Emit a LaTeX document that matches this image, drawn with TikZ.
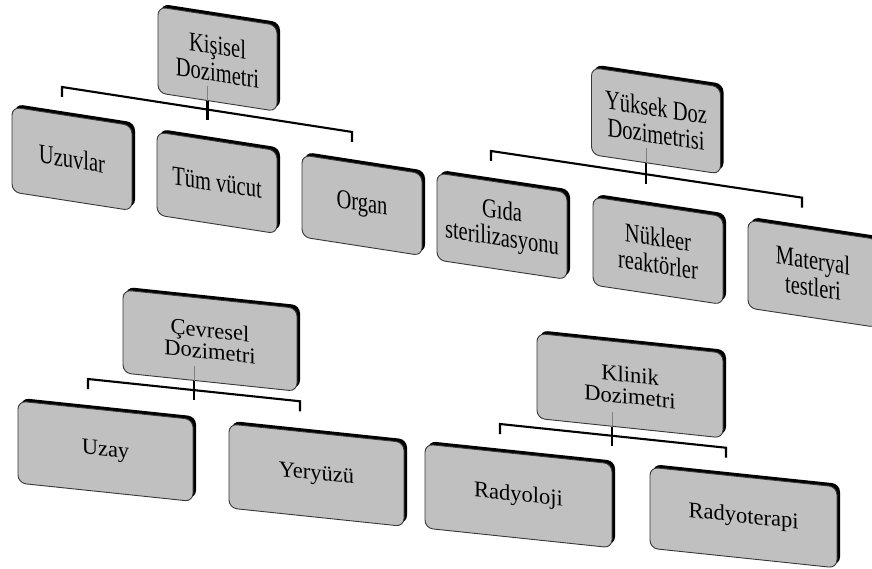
\documentclass[tikz,border=0pt]{standalone}
\usepackage{fontspec}
\setmainfont{Liberation Serif}
\newfontfamily\narrowserif[FakeStretch=0.76]{Liberation Serif}
\usetikzlibrary{shadows}

\definecolor{boxgray}{RGB}{192,192,192}
\definecolor{edgegray}{RGB}{55,55,55}

\tikzset{
  orgbox/.style={draw=edgegray, line width=0.9pt, fill=boxgray,
    rounded corners=8pt, transform shape, inner sep=2pt, align=center,
    general shadow={fill=black, shadow xshift=3pt, shadow yshift=3pt}},
  upperbox/.style={orgbox, font=\narrowserif\fontsize{27}{27}\selectfont},
  lowerbox/.style={orgbox, font=\fontsize{22.5}{21.5}\selectfont},
  conn/.style={line width=2.1pt, draw=black},
  stemin/.style={line width=0.6pt, draw=gray},
}

\begin{document}
\begin{tikzpicture}[x=1pt,y=1pt]
\useasboundingbox (0,0) rectangle (872,-569);
\fill[white] (0,0) rectangle (872,-569);

% --- Kişisel Dozimetri ---
\begin{scope}[shift={(62,-87)}, yslant=-0.155]
  \coordinate (kL) at (0,0);   \coordinate (kLd) at (0,-10);
  \coordinate (kR) at (290,0); \coordinate (kRd) at (290,-10);
  \coordinate (kS) at (145.5,-10);
  \draw[conn] (kLd) -- (kL) -- (kR) -- (kRd);
  \node[upperbox, minimum width=119pt, minimum height=86pt] (k) at (155.5,52) {Kişisel\\Dozimetri};
  \draw[conn] ([xshift=-10pt]k.south) -- (kS);
  \draw[stemin] ([xshift=-10pt]k.south) -- ++(0,15);
  \node[upperbox, minimum width=120pt, minimum height=85pt] (k1) at (10,-70.25) {Uzuvlar};
  \node[upperbox, minimum width=120pt, minimum height=83pt] (k2) at (155,-71.8) {Tüm vücut};
  \node[upperbox, minimum width=120pt, minimum height=82pt] (k3) at (300,-71.8) {Organ};
\end{scope}

% --- Yüksek Doz Dozimetrisi ---
\begin{scope}[shift={(491,-151)}, yslant=-0.15]
  \coordinate (yL) at (0,0);   \coordinate (yLd) at (0,-10);
  \coordinate (yR) at (311,0); \coordinate (yRd) at (311,-10);
  \coordinate (yS) at (155,-10);
  \draw[conn] (yLd) -- (yL) -- (yR) -- (yRd);
  \node[upperbox, minimum width=129pt, minimum height=87pt] (y) at (165,55) {Yüksek Doz\\Dozimetrisi};
  \draw[conn] ([xshift=-10pt]y.south) -- (yS);
  \draw[stemin] ([xshift=-10pt]y.south) -- ++(0,15);
  \node[upperbox, minimum width=130pt, minimum height=87pt] (y1) at (11,-73.6) {Gıda\\sterilizasyonu};
  \node[upperbox, minimum width=130pt, minimum height=88pt] (y2) at (167,-74.7) {Nükleer\\reaktörler};
  \node[upperbox, minimum width=130pt, minimum height=88pt] (y3) at (322,-74.45) {Materyal\\testleri};
\end{scope}

% --- Çevresel Dozimetri ---
\begin{scope}[shift={(88,-379)}, yslant=-0.105]
  \coordinate (cL) at (0,0);   \coordinate (cLd) at (0,-10);
  \coordinate (cR) at (212,0); \coordinate (cRd) at (212,-10);
  \coordinate (cS) at (106,-10);
  \draw[conn] (cLd) -- (cL) -- (cR) -- (cRd);
  \node[lowerbox, minimum width=174pt, minimum height=83pt] (c) at (122,51.2) {Çevresel\\Dozimetri};
  \draw[conn] ([xshift=-16pt]c.south) -- (cS);
  \draw[stemin] ([xshift=-16pt]c.south) -- ++(0,15);
  \node[lowerbox, minimum width=175pt, minimum height=82pt] (c1) at (17.5,-70.4) {Uzay};
  \node[lowerbox, minimum width=175pt, minimum height=84pt] (c2) at (228.5,-72.2) {Yeryüzü};
\end{scope}

% --- Klinik Dozimetri ---
\begin{scope}[shift={(500,-424)}, yslant=-0.105]
  \coordinate (lL) at (0,0);   \coordinate (lLd) at (0,-10);
  \coordinate (lR) at (226,0); \coordinate (lRd) at (226,-10);
  \coordinate (lS) at (112,-10);
  \draw[conn] (lLd) -- (lL) -- (lR) -- (lRd);
  \node[lowerbox, minimum width=186pt, minimum height=85pt] (l) at (130,52) {Klinik\\Dozimetri};
  \draw[conn] ([xshift=-18pt]l.south) -- (lS);
  \draw[stemin] ([xshift=-18pt]l.south) -- ++(0,15);
  \node[lowerbox, minimum width=187pt, minimum height=84pt] (l1) at (18.5,-70) {Radyoloji};
  \node[lowerbox, minimum width=187pt, minimum height=81pt] (l2) at (243.5,-68) {Radyoterapi};
\end{scope}
\end{tikzpicture}
\end{document}
